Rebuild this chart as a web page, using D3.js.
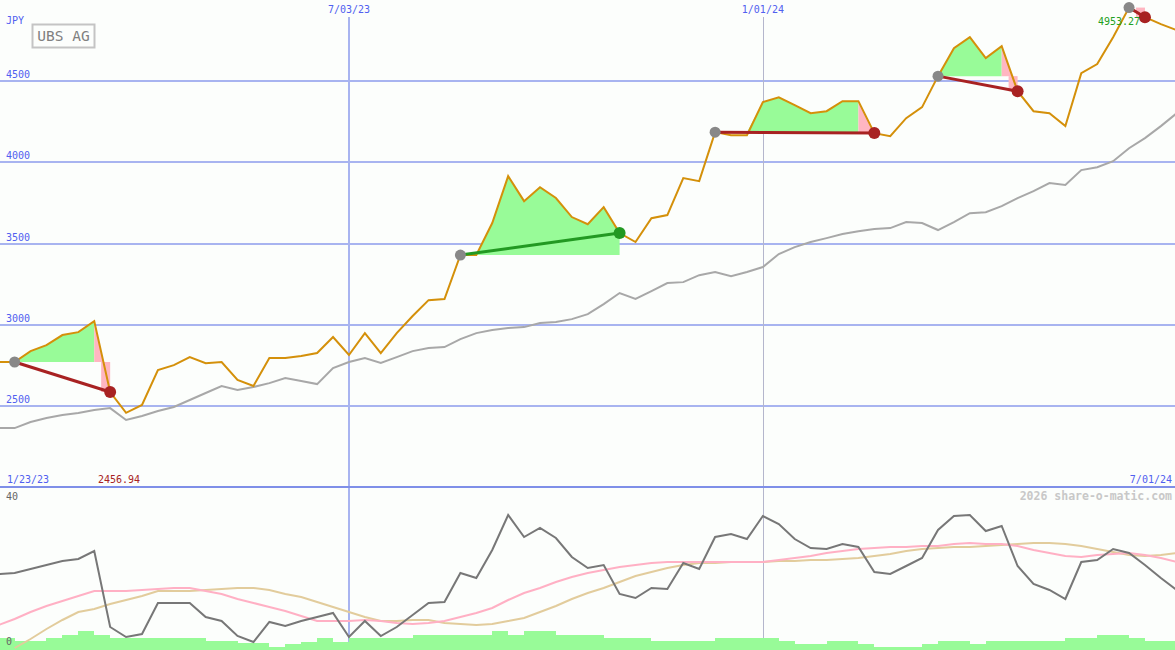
<!DOCTYPE html>
<html>
<head>
<meta charset="utf-8">
<script src="https://cdn.jsdelivr.net/npm/d3@7"></script>
<style>
  html, body { margin: 0; padding: 0; background: #fcfefc; }
  svg { display: block; }
  text { font-family: "DejaVu Sans Mono", monospace; }
</style>
</head>
<body>
<div id="chart"></div>
<script>
// ---------------- data ----------------
const title = "UBS AG";
const currency = "JPY";
const startDate = new Date(2023, 0, 23);
const endDate = new Date(2024, 6, 1);
const weeks = d3.timeMonday.range(startDate, new Date(2024, 6, 2)); // 76 weekly points

const priceTicks = [2500, 3000, 3500, 4000, 4500];
const dateTicks = [new Date(2023, 6, 3), new Date(2024, 0, 1)];
const dateTickLabels = ["7/03/23", "1/01/24"];
const cornerLabels = ["1/23/23", "7/01/24"];
const lowerTickLabels = ["40", "0"];

// weekly close (JPY)
const price = [
  2770, 2770, 2770, 2837, 2874, 2936, 2954, 3022, 2585, 2456.94,
  2505, 2720, 2751, 2800, 2763, 2770, 2659, 2622, 2794, 2794,
  2807, 2825, 2924, 2813, 2948, 2825, 2948, 3053, 3151, 3158,
  3429, 3429, 3626, 3915, 3761, 3847, 3780, 3663, 3619, 3724,
  3564, 3509, 3656, 3675, 3903, 3884, 4186, 4167, 4167, 4371,
  4401, 4352, 4303, 4315, 4377, 4377, 4180, 4161, 4272, 4340,
  4531, 4703, 4771, 4642, 4716, 4438, 4315, 4303, 4223, 4549,
  4605, 4771, 4953.27, 4894, 4851, 4814
];

// comparison (grey) line
const benchmark = [
  2363, 2363, 2363, 2400, 2425, 2443, 2456, 2474, 2486, 2413,
  2437, 2468, 2493, 2536, 2579, 2622, 2597, 2616, 2640, 2671,
  2653, 2634, 2733, 2770, 2794, 2764, 2800, 2837, 2856, 2862,
  2911, 2948, 2967, 2979, 2985, 3010, 3016, 3034, 3065, 3127,
  3195, 3158, 3207, 3256, 3262, 3305, 3324, 3299, 3324, 3355,
  3435, 3478, 3509, 3533, 3558, 3576, 3589, 3595, 3632, 3626,
  3583, 3632, 3687, 3693, 3730, 3780, 3823, 3872, 3860, 3952,
  3970, 4007, 4087, 4149, 4223, 4303
];

// signal periods (start index, end index)
const signalStart = [2, 30, 46, 60, 72];
const signalEnd   = [8, 40, 56, 65, 73];

// lower panel: indicator (dark grey) and two averages
const indicator = [
  18.75, 18.75, 19, 20, 21, 22, 22.5, 24.5, 5.5, 3,
  3.75, 11.5, 11.5, 11.5, 8, 7, 3.25, 1.75, 6.75, 5.75,
  7, 8, 9, 3, 7, 3.25, 5.5, 8.5, 11.5, 11.75,
  19, 17.75, 24.75, 33.5, 28, 30.25, 27.75, 23, 20.25, 21,
  13.75, 12.75, 15.25, 15, 21.5, 20, 28, 28.75, 27.5, 33.25,
  31.25, 27.5, 25.25, 25, 26.25, 25.5, 19.25, 18.75, 20.75, 22.75,
  29.75, 33.25, 33.5, 29.5, 30.75, 20.75, 16.25, 14.75, 12.5, 21.75,
  22.25, 25, 24, 21, 17.75, 14.75
];
const avgFast = [
  4.25, 6, 7.5, 9.25, 10.75, 12, 13.25, 14.5, 14.5, 14.5,
  14.75, 15, 15.25, 15.25, 14.5, 13.75, 12.5, 11.5, 10.5, 9.5,
  8.25, 7, 7, 7, 7.25, 7, 6.5, 6.25, 6.5, 7,
  8, 9, 10.25, 12.25, 14, 15.25, 16.75, 18, 19, 19.75,
  20.5, 21, 21.5, 21.75, 21.75, 21.75, 21.75, 21.75, 21.75, 21.75,
  22.25, 22.75, 23.25, 24, 24.5, 25, 25.25, 25.5, 25.5, 25.75,
  25.75, 26.25, 26.5, 26.25, 26.25, 25.75, 24.75, 24, 23.25, 23,
  23.5, 23.75, 24, 23.5, 22.75, 21.75
];
const avgSlow = [
  null, null, 0.25, 2.5, 5, 7.25, 9.25, 10, 11.25, 12.25,
  13.25, 14.5, 14.5, 14.5, 14.75, 15, 15.25, 15.25, 14.75, 13.75,
  13, 11.75, 10.5, 9.25, 8, 7, 7, 7.25, 7.25, 6.5,
  6.25, 6, 6.25, 7, 7.75, 9.25, 10.75, 12.5, 14, 15.25,
  16.75, 18.25, 19.25, 20.25, 21, 21.5, 21.5, 21.75, 21.75, 21.75,
  22, 22, 22.25, 22.25, 22.5, 22.75, 23.25, 23.75, 24.5, 25,
  25.25, 25.5, 25.5, 25.75, 26, 26.25, 26.5, 26.5, 26.25, 25.75,
  25, 24.25, 23.5, 23.25, 23.5, 24
];
// weekly volume (bars, lower panel)
const volume = [
  12, 12, 9, 9, 12, 15, 19, 15, 12, 12,
  12, 12, 12, 12, 9, 9, 7, 7, 3, 6,
  8, 12, 8, 12, 12, 12, 12, 15, 15, 15,
  15, 15, 19, 15, 19, 19, 15, 15, 15, 12,
  12, 12, 9, 9, 9, 9, 12, 12, 12, 12,
  9, 6, 6, 9, 9, 6, 3, 3, 3, 6,
  9, 9, 6, 9, 9, 9, 9, 9, 12, 12,
  15, 15, 12, 9, 9, 9
];

// ---------------- chart ----------------
const W = 1175, H = 650;
const topY0 = 0, topY1 = 487;      // upper panel
const lowY0 = 489, lowY1 = 649;    // lower panel

const C = {
  bg: "#fcfefc", grid: "#a8b4f0", axis: "#7f8fe8", label: "#5060f0",
  price: "#d4900a", bench: "#a8a8a8", gain: "#98fb98", loss: "#ffb6c1",
  lossLine: "#a82222", gainLine: "#229922", startDot: "#888888",
  ind: "#777777", fast: "#ffb0c4", slow: "#e2cc9c", vol: "#98fb98"
};

const x = d3.scaleTime().domain([startDate, endDate]).range([-17.2, 1176.8]);
const y = d3.scaleLinear().domain([2000, 5000]).range([topY1, topY0]);
const yL = d3.scaleLinear().domain([0, 40]).range([lowY1, lowY0]);
const yV = d3.scaleLinear().domain([0, 100]).range([650, 550]);

const svg = d3.select("#chart").append("svg")
  .attr("width", W).attr("height", H);

svg.append("rect").attr("width", W).attr("height", H).attr("fill", C.bg);

const defs = svg.append("defs");
defs.append("clipPath").attr("id", "clipTop").append("rect")
  .attr("x", 0).attr("y", 0).attr("width", W).attr("height", topY1);
defs.append("clipPath").attr("id", "clipLow").append("rect")
  .attr("x", 0).attr("y", 488).attr("width", W).attr("height", H - 488);

// horizontal grid (upper)
svg.append("g").selectAll("line").data(priceTicks).join("line")
  .attr("x1", 0).attr("x2", W)
  .attr("y1", d => Math.round(y(d))).attr("y2", d => Math.round(y(d)))
  .attr("stroke", C.grid).attr("stroke-width", 2)
  .attr("shape-rendering", "crispEdges");

svg.append("g").selectAll("text").data(priceTicks).join("text")
  .attr("x", 6).attr("y", d => Math.round(y(d)) - 3)
  .attr("font-size", 10).attr("fill", C.label).text(d => d);

// vertical date lines
svg.append("line")
  .attr("x1", Math.round(x(dateTicks[0]))).attr("x2", Math.round(x(dateTicks[0])))
  .attr("y1", 17).attr("y2", H)
  .attr("stroke", C.grid).attr("stroke-width", 2).attr("shape-rendering", "crispEdges");
svg.append("line")
  .attr("x1", Math.round(x(dateTicks[1])) + 0.5).attr("x2", Math.round(x(dateTicks[1])) + 0.5)
  .attr("y1", 17).attr("y2", H)
  .attr("stroke", "#b4b6cc").attr("stroke-width", 1).attr("shape-rendering", "crispEdges");

svg.append("g").selectAll("text").data(dateTicks).join("text")
  .attr("x", d => x(d)).attr("y", 13).attr("text-anchor", "middle")
  .attr("font-size", 10).attr("fill", C.label)
  .text((d, i) => dateTickLabels[i]);

// panel separator
svg.append("line").attr("x1", 0).attr("x2", W).attr("y1", 487).attr("y2", 487)
  .attr("stroke", C.axis).attr("stroke-width", 2).attr("shape-rendering", "crispEdges");

// labels
svg.append("text").attr("x", 6).attr("y", 24).attr("font-size", 10)
  .attr("fill", C.label).text(currency);
svg.append("text").attr("x", 7).attr("y", 483).attr("font-size", 10)
  .attr("fill", C.label).text(cornerLabels[0]);
svg.append("text").attr("x", 1172).attr("y", 483).attr("font-size", 10)
  .attr("text-anchor", "end").attr("fill", C.label).text(cornerLabels[1]);

svg.append("rect").attr("x", 32.5).attr("y", 24.5).attr("width", 62).attr("height", 23)
  .attr("fill", "none").attr("stroke", "#c4c4c4").attr("stroke-width", 2);
svg.append("text").attr("x", 63.5).attr("y", 41).attr("text-anchor", "middle")
  .attr("font-size", 14.5).attr("fill", "#808080").text(title);

svg.append("text").attr("x", 1172).attr("y", 500).attr("text-anchor", "end")
  .attr("font-size", 11.5).attr("font-weight", "bold").attr("fill", "#c8c8c8")
  .text("2026 share-o-matic.com");

// ---------- upper panel content ----------
const gTop = svg.append("g").attr("clip-path", "url(#clipTop)");
const pts = weeks.map((d, i) => ({ d, i, p: price[i], b: benchmark[i] }));

// signal fills
signalStart.forEach((s, j) => {
  const e = signalEnd[j];
  const base = price[s];
  const gain = price[e] >= base;
  const greenEnd = gain ? e : e - 1;
  if (greenEnd > s) {
    const seg = pts.slice(s, greenEnd + 1);
    gTop.append("path")
      .attr("d", d3.area().x(d => x(d.d)).y0(y(base)).y1(d => y(Math.max(d.p, base)))(seg))
      .attr("fill", C.gain);
  }
  if (!gain) {
    const a = pts[e - 1], b = pts[e];
    const seg = [{ xx: x(a.d), v: a.p }];
    if (a.p > base && b.p < base) {
      const t = (a.p - base) / (a.p - b.p);
      seg.push({ xx: x(a.d) + t * (x(b.d) - x(a.d)), v: base });
    }
    seg.push({ xx: x(b.d), v: b.p });
    gTop.append("path")
      .attr("d", d3.area().x(d => d.xx).y0(y(base)).y1(d => y(Math.max(d.v, base)))(seg))
      .attr("fill", C.loss);
    gTop.append("rect")
      .attr("x", x(b.d) - 9).attr("width", 9)
      .attr("y", y(base)).attr("height", y(b.p) - y(base))
      .attr("fill", C.loss);
  }
});

// benchmark line
gTop.append("path")
  .attr("d", d3.line().x(d => x(d.d)).y(d => y(d.b))(pts))
  .attr("fill", "none").attr("stroke", C.bench).attr("stroke-width", 2);

// price line
gTop.append("path")
  .attr("d", d3.line().x(d => x(d.d)).y(d => y(d.p))(pts))
  .attr("fill", "none").attr("stroke", C.price).attr("stroke-width", 2)
  .attr("stroke-linejoin", "miter");

// signal connectors and dots
signalStart.forEach((s, j) => {
  const e = signalEnd[j];
  const gain = price[e] >= price[s];
  gTop.append("line")
    .attr("x1", x(weeks[s])).attr("y1", y(price[s]))
    .attr("x2", x(weeks[e])).attr("y2", y(price[e]))
    .attr("stroke", gain ? C.gainLine : C.lossLine).attr("stroke-width", 3);
});
signalStart.forEach((s, j) => {
  const e = signalEnd[j];
  const gain = price[e] >= price[s];
  gTop.append("circle").attr("cx", x(weeks[s])).attr("cy", y(price[s])).attr("r", 5.5)
    .attr("fill", C.startDot);
  gTop.append("circle").attr("cx", x(weeks[e])).attr("cy", y(price[e])).attr("r", 6)
    .attr("fill", gain ? C.gainLine : C.lossLine);
});

// min / max labels
const iMax = d3.maxIndex(price), iMin = d3.minIndex(price);
svg.append("text").attr("x", x(weeks[iMax]) - 10).attr("y", 25)
  .attr("text-anchor", "middle").attr("font-size", 10).attr("fill", "#22a022")
  .text(price[iMax].toFixed(2));
svg.append("text").attr("x", x(weeks[iMin]) - 7).attr("y", 483)
  .attr("text-anchor", "middle").attr("font-size", 10).attr("fill", "#a82222")
  .text(price[iMin].toFixed(2));

// ---------- lower panel ----------
const gLow = svg.append("g").attr("clip-path", "url(#clipLow)");

gLow.append("g").selectAll("rect").data(pts).join("rect")
  .attr("x", d => Math.round(x(d.d)))
  .attr("width", d => Math.round(x(d3.timeWeek.offset(d.d, 1))) - Math.round(x(d.d)))
  .attr("y", (d, i) => yV(volume[i]))
  .attr("height", (d, i) => 650 - yV(volume[i]))
  .attr("fill", C.vol).attr("shape-rendering", "crispEdges");

const lowLine = arr => d3.line()
  .defined((d, i) => arr[i] != null)
  .x(d => x(d.d)).y((d, i) => yL(arr[i]))(pts);

gLow.append("path").attr("d", lowLine(avgSlow))
  .attr("fill", "none").attr("stroke", C.slow).attr("stroke-width", 2);
gLow.append("path").attr("d", lowLine(avgFast))
  .attr("fill", "none").attr("stroke", C.fast).attr("stroke-width", 2);
gLow.append("path").attr("d", lowLine(indicator))
  .attr("fill", "none").attr("stroke", C.ind).attr("stroke-width", 2);

// lower panel scale labels (drawn on top of the bars)
svg.append("text").attr("x", 6).attr("y", 500).attr("font-size", 10)
  .attr("fill", "#666").text(lowerTickLabels[0]);
svg.append("text").attr("x", 6).attr("y", 645).attr("font-size", 10)
  .attr("fill", "#666").text(lowerTickLabels[1]);
</script>
</body>
</html>
